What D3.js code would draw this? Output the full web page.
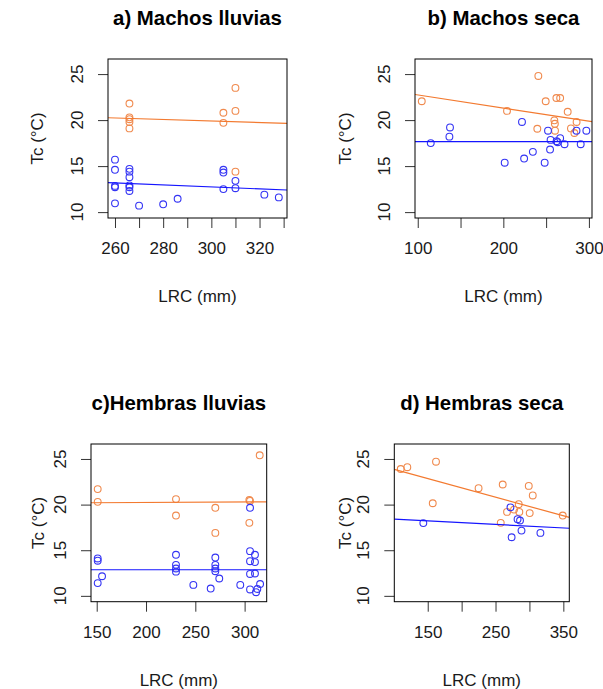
<!DOCTYPE html>
<html>
<head>
<meta charset="utf-8">
<script src="https://cdn.jsdelivr.net/npm/d3@7"></script>
<style>
  html, body { margin: 0; padding: 0; background: #fff; }
  svg { display: block; }
  text { font-family: "Liberation Sans", Arial, sans-serif; }
</style>
</head>
<body>
<svg id="chart" width="603" height="689"></svg>
<script>
// ---------------- DATA ----------------
const titles = ["a) Machos lluvias", "b) Machos seca", "c)Hembras lluvias", "d) Hembras seca"];
const xLabel = "LRC (mm)";
const yLabel = "Tc (°C)";

const yTicks = [10, 15, 20, 25];

const xTicksA = [260, 270, 280, 290, 300, 310, 320, 330];
const xTickLabelsA = [260, 280, 300, 320];
const xTicksB = [100, 150, 200, 250, 300];
const xTickLabelsB = [100, 200, 300];
const xTicksC = [150, 200, 250, 300];
const xTickLabelsC = [150, 200, 250, 300];
const xTicksD = [150, 200, 250, 300, 350];
const xTickLabelsD = [150, 250, 350];

// a) Machos lluvias
const orangeA_x = [266, 266, 266, 266, 266, 305, 305, 310, 310, 310];
const orangeA_y = [21.8, 20.3, 20.1, 19.8, 19.1, 20.8, 19.7, 23.5, 21.0, 14.4];
const blueA_x = [260, 260, 260, 260, 260, 266, 266, 266, 266, 266, 266, 270, 280, 286, 305, 305, 305, 310, 310, 322, 328];
const blueA_y = [15.7, 14.6, 12.85, 12.7, 10.95, 14.7, 14.4, 13.8, 12.9, 12.7, 12.3, 10.7, 10.85, 11.45, 14.6, 14.3, 12.5, 13.4, 12.6, 11.9, 11.6];
const fitOrangeA = [22.4, -0.00834];   // intercept, slope
const fitBlueA = [15.97, -0.01077];

// b) Machos seca
const orangeB_x = [104.7, 204.3, 239.7, 240.9, 249.5, 259.6, 260.2, 260.4, 262, 266.4, 275.2, 279, 283, 285.6];
const orangeB_y = [22.05, 21.0, 19.06, 24.8, 22.05, 19.97, 19.6, 18.85, 22.4, 22.4, 20.9, 19.1, 18.6, 19.8];
const blueB_x = [115.2, 137, 137.7, 201.6, 221.8, 224.3, 234.5, 248.3, 252.2, 254.6, 255.2, 262.2, 263.5, 266.4, 271.5, 285.5, 290.4, 297];
const blueB_y = [17.5, 18.2, 19.2, 15.37, 19.8, 15.82, 16.55, 15.37, 18.85, 16.8, 17.85, 17.7, 17.6, 18.03, 17.38, 18.85, 17.38, 18.85];
const fitOrangeB = [24.17, -0.01431];
const fitBlueB = [17.67, 0];

// c) Hembras lluvias
const orangeC_x = [151, 151, 230.4, 230.4, 270.3, 270.3, 304.8, 305.5, 304.8, 315.3];
const orangeC_y = [21.7, 20.3, 20.6, 18.8, 19.65, 16.9, 20.5, 20.4, 18.0, 25.4];
const blueC_x = [151, 151, 151, 155.4, 230.4, 230.4, 230.4, 230.4, 248, 265.6, 270.3, 270.3, 270.3, 270.3, 274.3, 295.6, 305.5, 305.5, 305.5, 305.5, 305.5, 310.5, 310.5, 310.5, 311.6, 312.9, 315.7];
const blueC_y = [14.1, 13.85, 11.4, 12.15, 14.5, 13.4, 13.0, 12.65, 11.2, 10.8, 14.2, 13.4, 13.0, 12.7, 11.9, 11.2, 19.65, 14.9, 13.8, 12.4, 10.7, 14.5, 13.7, 12.45, 10.4, 10.75, 11.3];
const fitOrangeC = [20.12, 0.00056];
const fitBlueC = [12.86, 0];

// d) Hembras seca
const orangeD_x = [110.2, 119.9, 162.2, 157.4, 225, 260.6, 257.7, 267, 277.3, 284.2, 285.1, 299, 304.9, 300.4, 349.1];
const orangeD_y = [23.9, 24.1, 24.7, 20.15, 21.8, 22.2, 18.0, 19.2, 19.45, 20.05, 19.2, 22.05, 21.0, 19.07, 18.8];
const blueD_x = [143.5, 272, 273.7, 282.5, 286.1, 288.3, 316.2];
const blueD_y = [17.97, 19.7, 16.42, 18.4, 18.26, 17.15, 16.9];
const fitOrangeD = [25.91, -0.02038];
const fitBlueD = [18.8, -0.003874];

// ---------------- LAYOUT ----------------
const colors = {
  orangePt: "#F08A4E", orangeLine: "#F37A30",
  bluePt: "#3434F4", blueLine: "#1515FF",
  text: "#1a1a1a"
};

const panels = [
  { title: titles[0], box: [108, 287, 59, 218], xDom: [257.1, 331.4], ylabX: 37,
    xTicks: xTicksA, xLabels: xTickLabelsA,
    orange: [orangeA_x, orangeA_y], blue: [blueA_x, blueA_y], fitO: fitOrangeA, fitB: fitBlueA },
  { title: titles[1], box: [415, 592, 59, 218], xDom: [96.8, 303.6], ylabX: 345,
    xTicks: xTicksB, xLabels: xTickLabelsB,
    orange: [orangeB_x, orangeB_y], blue: [blueB_x, blueB_y], fitO: fitOrangeB, fitB: fitBlueB },
  { title: titles[2], box: [91, 266.7, 444, 601.7], xDom: [144.2, 322.4], ylabX: 38,
    xTicks: xTicksC, xLabels: xTickLabelsC,
    orange: [orangeC_x, orangeC_y], blue: [blueC_x, blueC_y], fitO: fitOrangeC, fitB: fitBlueC },
  { title: titles[3], box: [394.3, 569.3, 444, 601.7], xDom: [100.7, 358.8], ylabX: 345,
    xTicks: xTicksD, xLabels: xTickLabelsD,
    orange: [orangeD_x, orangeD_y], blue: [blueD_x, blueD_y], fitO: fitOrangeD, fitB: fitBlueD }
];

const yDom = [9.36, 26.64];

const svg = d3.select("#chart");

panels.forEach(p => {
  const [x0, x1, y0, y1] = p.box;
  const x = d3.scaleLinear().domain(p.xDom).range([x0, x1]);
  const y = d3.scaleLinear().domain(yDom).range([y1, y0]);
  const g = svg.append("g");

  // title
  g.append("text")
    .attr("x", (x0 + x1) / 2).attr("y", y0 - 34)
    .attr("text-anchor", "middle")
    .attr("font-size", 20.4).attr("font-weight", "bold")
    .attr("fill", "#000")
    .text(p.title);

  // x axis
  const xa = g.append("g").attr("transform", `translate(0,${y1})`)
    .call(d3.axisBottom(x).tickValues(p.xTicks).tickSize(10).tickPadding(14)
      .tickFormat(d => p.xLabels.includes(d) ? String(d) : ""));
  xa.select(".domain").remove();
  xa.selectAll(".tick line").attr("stroke", "#333").attr("stroke-width", 1);
  xa.selectAll(".tick text").attr("font-size", 17).attr("fill", colors.text)
    .attr("font-family", '"Liberation Sans", Arial, sans-serif');

  // y axis
  const ya = g.append("g").attr("transform", `translate(${x0},0)`)
    .call(d3.axisLeft(y).tickValues(yTicks).tickSize(10).tickFormat(""));
  ya.select(".domain").remove();
  ya.selectAll(".tick line").attr("stroke", "#333").attr("stroke-width", 1);
  g.selectAll(".ylab").data(yTicks).join("text")
    .attr("class", "ylab")
    .attr("transform", d => `translate(${x0 - 31},${y(d)}) rotate(-90)`)
    .attr("text-anchor", "middle").attr("dy", "0.35em")
    .attr("font-size", 17).attr("fill", colors.text)
    .text(d => d);

  // axis titles
  g.append("text")
    .attr("x", (x0 + x1) / 2).attr("y", y1 + 84)
    .attr("text-anchor", "middle")
    .attr("font-size", 17).attr("fill", colors.text)
    .text(xLabel);
  g.append("text")
    .attr("transform", `translate(${p.ylabX},${(y0 + y1) / 2}) rotate(-90)`)
    .attr("text-anchor", "middle").attr("dy", "0.35em")
    .attr("font-size", 17).attr("fill", colors.text)
    .text(yLabel);

  // clip
  const cid = "clip" + x0;
  svg.append("clipPath").attr("id", cid).append("rect")
    .attr("x", x0).attr("y", y0).attr("width", x1 - x0).attr("height", y1 - y0);

  const plot = g.append("g").attr("clip-path", `url(#${cid})`);

  // points
  const drawPts = (arr, col) => {
    const pts = arr[0].map((v, i) => [v, arr[1][i]]);
    plot.append("g").selectAll("circle").data(pts).join("circle")
      .attr("cx", d => x(d[0])).attr("cy", d => y(d[1])).attr("r", 3.4)
      .attr("fill", "none").attr("stroke", col).attr("stroke-width", 1.1);
  };
  drawPts(p.orange, colors.orangePt);
  drawPts(p.blue, colors.bluePt);

  // fit lines
  const line = d3.line().x(d => x(d[0])).y(d => y(d[1]));
  const drawFit = (fit, col) => {
    const pts = p.xDom.map(v => [v, fit[0] + fit[1] * v]);
    plot.append("path").attr("d", line(pts))
      .attr("fill", "none").attr("stroke", col).attr("stroke-width", 1.2);
  };
  drawFit(p.fitO, colors.orangeLine);
  drawFit(p.fitB, colors.blueLine);

  // box
  g.append("rect").attr("x", x0).attr("y", y0)
    .attr("width", x1 - x0).attr("height", y1 - y0)
    .attr("fill", "none").attr("stroke", "#000").attr("stroke-width", 1);
});
</script>
</body>
</html>
